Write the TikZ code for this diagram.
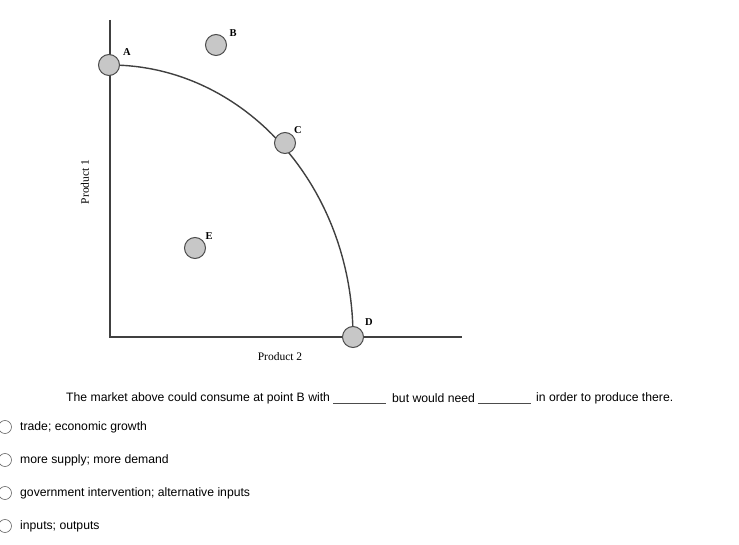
\documentclass[tikz,border=0pt]{standalone}
\usepackage{fontspec}
\setmainfont{Liberation Sans}
\newfontfamily\serifl{Liberation Serif}
\begin{document}
\begin{tikzpicture}[x=1pt,y=-1pt,
  axis/.style={draw=black!75,line width=2pt},
  pt/.style={circle,draw=black!70,fill=black!22,line width=1pt,minimum size=21pt,inner sep=0pt},
  lab/.style={font=\serifl\bfseries\fontsize{10.5}{12}\selectfont,inner sep=0pt},
  txt/.style={font=\fontsize{12.2}{14}\selectfont,anchor=west,inner sep=0pt},
  radio/.style={circle,draw=black!60,line width=0.6pt,minimum size=13pt,inner sep=0pt}]
\useasboundingbox (0,0) rectangle (739,545);
\coordinate (top) at (110,20);
\coordinate (org) at (110,337);
\coordinate (xend) at (462,337);
\draw[axis] (top) -- (org) -- (xend);
\draw[black!75,line width=1.4pt] (110,65) arc[start angle=90,end angle=0,x radius=243,y radius=-272];
\node[pt] (A) at (109,65) {};
\node[pt] (B) at (216,45) {};
\node[pt] (C) at (285,143) {};
\node[pt] (D) at (353,337) {};
\node[pt] (E) at (195,248) {};
\node[lab] (lA) at (127,52) {A};
\node[lab] (lB) at (233,33) {B};
\node[lab] (lC) at (298,130) {C};
\node[lab] (lD) at (369,322) {D};
\node[lab] (lE) at (209,236) {E};
\node[font=\serifl\fontsize{11.5}{13}\selectfont,rotate=90] (p1) at (85,182) {Product 1};
\node[font=\serifl\fontsize{11.5}{13}\selectfont] (p2) at (280,357) {Product 2};
\node[txt] (q1) at (66,398) {The market above could consume at point B with};
\coordinate (b1s) at (333,403); \coordinate (b1e) at (386,403);
\draw[black!70,line width=0.6pt] (b1s) -- (b1e);
\node[txt] (q2) at (392,398) {but would need};
\coordinate (b2s) at (478,403); \coordinate (b2e) at (531,403);
\draw[black!70,line width=0.6pt] (b2s) -- (b2e);
\node[txt] (q3) at (536,398) {in order to produce there.};
\node[radio] (r1) at (5,427) {};
\node[txt] (o1) at (20,427) {trade; economic growth};
\node[radio] (r2) at (5,460) {};
\node[txt] (o2) at (20,460) {more supply; more demand};
\node[radio] (r3) at (5,493) {};
\node[txt] (o3) at (20,493) {government intervention; alternative inputs};
\node[radio] (r4) at (5,526) {};
\node[txt] (o4) at (20,526) {inputs; outputs};
\end{tikzpicture}
\end{document}
